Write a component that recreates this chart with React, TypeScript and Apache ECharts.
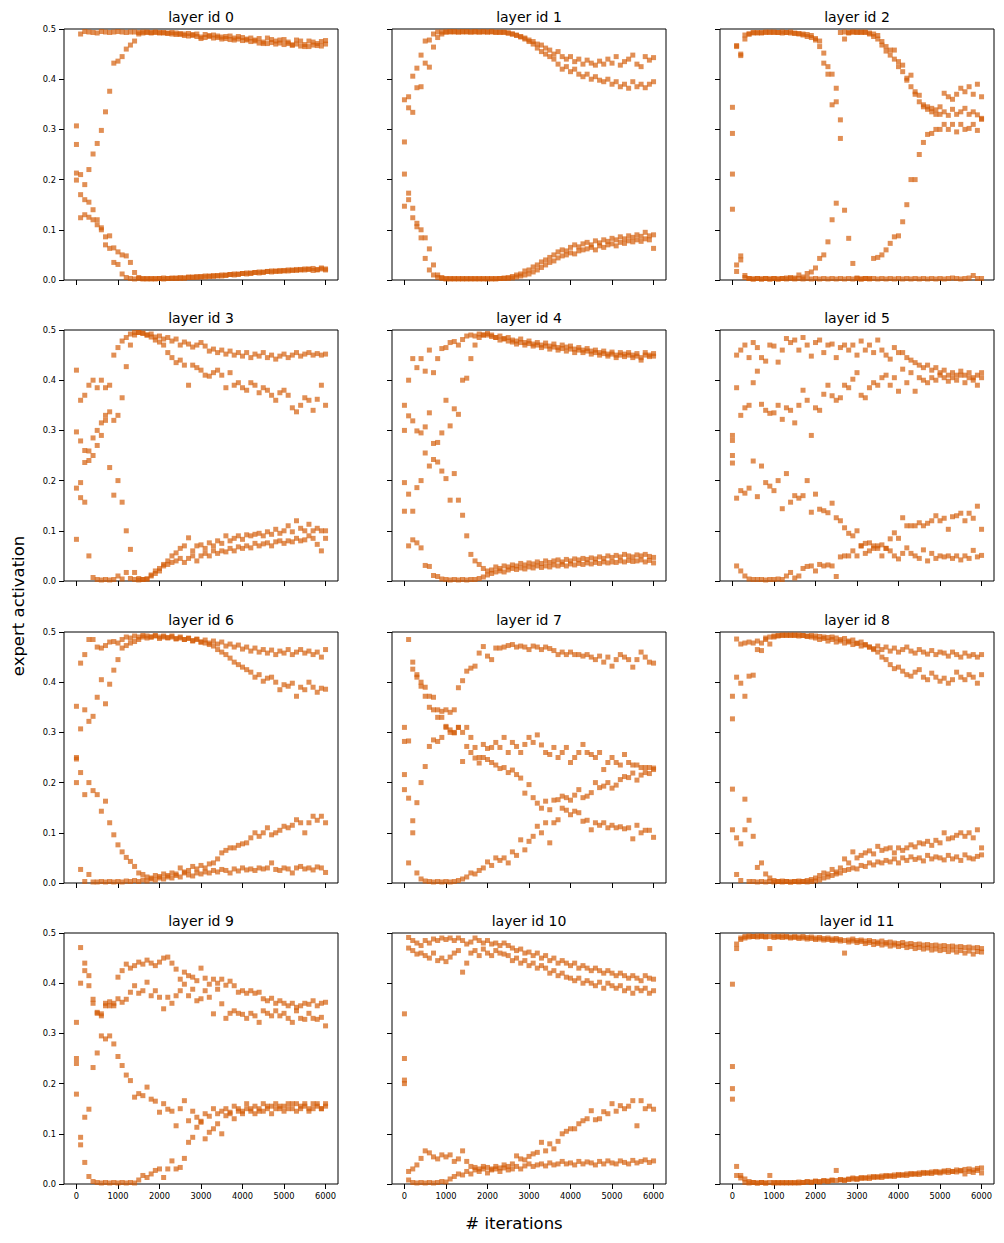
import React, { useEffect, useRef } from "react";
import * as echarts from "echarts";

const ITERATIONS = [
  0, 100, 200, 300, 400, 500, 600, 700, 800, 900,
  1000, 1100, 1200, 1300, 1400, 1500, 1600, 1700, 1800, 1900,
  2000, 2100, 2200, 2300, 2400, 2500, 2600, 2700, 2800, 2900,
  3000, 3100, 3200, 3300, 3400, 3500, 3600, 3700, 3800, 3900,
  4000, 4100, 4200, 4300, 4400, 4500, 4600, 4700, 4800, 4900,
  5000, 5100, 5200, 5300, 5400, 5500, 5600, 5700, 5800, 5900,
  6000,
];
const X_TICKS = [0, 1000, 2000, 3000, 4000, 5000, 6000];
const TITLES = [
  "layer id 0", "layer id 1", "layer id 2", "layer id 3", "layer id 4", "layer id 5",
  "layer id 6", "layer id 7", "layer id 8", "layer id 9", "layer id 10", "layer id 11",
];

// ---- layer 0
const L0A = [0.307,0.490,0.495,0.494,0.493,0.492,0.495,0.494,0.493,0.494,
 0.495,0.494,0.493,0.494,0.494,0.493,0.494,0.494,0.493,0.494,
 0.493,0.493,0.492,0.493,0.492,0.491,0.490,0.491,0.489,0.490,
 0.481,0.489,0.487,0.488,0.486,0.484,0.485,0.486,0.482,0.485,
 0.483,0.480,0.482,0.478,0.481,0.471,0.482,0.479,0.476,0.478,
 0.479,0.474,0.468,0.478,0.476,0.465,0.476,0.474,0.471,0.475,
 0.477];
const L0B = [0.270,0.210,0.190,0.220,0.251,0.272,0.298,0.335,0.376,0.432,
 0.436,0.445,0.460,0.468,0.476,0.490,0.492,0.493,0.492,0.493,
 0.492,0.492,0.491,0.490,0.489,0.489,0.487,0.486,0.487,0.485,
 0.484,0.483,0.485,0.482,0.483,0.480,0.481,0.479,0.478,0.480,
 0.477,0.478,0.475,0.476,0.472,0.474,0.471,0.473,0.470,0.472,
 0.469,0.471,0.468,0.470,0.466,0.469,0.465,0.468,0.467,0.466,
 0.470];
const L0C = [0.213,0.124,0.130,0.125,0.120,0.110,0.104,0.086,0.088,0.064,
 0.056,0.050,0.048,0.035,0.015,0.005,0.003,0.002,0.003,0.002,
 0.003,0.002,0.003,0.003,0.004,0.003,0.004,0.005,0.006,0.005,
 0.007,0.006,0.008,0.007,0.009,0.008,0.010,0.011,0.010,0.012,
 0.013,0.012,0.014,0.015,0.014,0.016,0.017,0.016,0.018,0.017,
 0.019,0.018,0.020,0.019,0.021,0.020,0.022,0.019,0.021,0.022,
 0.020];
const L0D = [0.199,0.170,0.160,0.155,0.140,0.120,0.100,0.070,0.063,0.035,
 0.031,0.012,0.005,0.003,0.002,0.003,0.002,0.003,0.002,0.003,
 0.003,0.004,0.003,0.004,0.003,0.005,0.004,0.006,0.005,0.007,
 0.006,0.008,0.007,0.009,0.008,0.010,0.009,0.011,0.012,0.011,
 0.013,0.014,0.013,0.015,0.016,0.015,0.017,0.018,0.017,0.019,
 0.018,0.020,0.019,0.021,0.020,0.022,0.021,0.023,0.020,0.024,
 0.022];

// ---- layer 1
const L1A = [0.359,0.365,0.406,0.422,0.448,0.476,0.478,0.490,0.494,0.494,
 0.494,0.495,0.494,0.494,0.495,0.494,0.494,0.495,0.494,0.494,
 0.494,0.495,0.494,0.493,0.494,0.492,0.490,0.487,0.485,0.482,
 0.478,0.475,0.470,0.468,0.462,0.458,0.450,0.455,0.445,0.440,
 0.445,0.435,0.440,0.430,0.438,0.432,0.428,0.436,0.430,0.440,
 0.432,0.445,0.428,0.435,0.440,0.448,0.430,0.425,0.445,0.438,
 0.443];
const L1B = [0.275,0.343,0.334,0.383,0.385,0.432,0.424,0.464,0.483,0.490,
 0.494,0.494,0.495,0.494,0.494,0.495,0.494,0.494,0.494,0.495,
 0.494,0.494,0.493,0.494,0.493,0.492,0.490,0.488,0.484,0.480,
 0.475,0.470,0.462,0.455,0.450,0.445,0.440,0.430,0.420,0.425,
 0.415,0.420,0.410,0.405,0.410,0.400,0.405,0.398,0.395,0.400,
 0.390,0.395,0.385,0.390,0.382,0.395,0.385,0.390,0.383,0.390,
 0.395];
const L1C = [0.211,0.160,0.143,0.113,0.100,0.084,0.062,0.030,0.010,0.005,
 0.003,0.002,0.003,0.002,0.003,0.002,0.003,0.002,0.003,0.002,
 0.003,0.002,0.003,0.003,0.004,0.005,0.007,0.010,0.012,0.018,
 0.020,0.026,0.030,0.036,0.040,0.045,0.050,0.056,0.060,0.058,
 0.065,0.070,0.066,0.072,0.075,0.070,0.078,0.074,0.080,0.077,
 0.083,0.080,0.086,0.082,0.088,0.085,0.090,0.087,0.095,0.088,
 0.090];
const L1D = [0.147,0.173,0.124,0.106,0.084,0.043,0.020,0.010,0.005,0.003,
 0.002,0.003,0.002,0.003,0.002,0.003,0.002,0.003,0.002,0.003,
 0.002,0.003,0.002,0.003,0.003,0.003,0.004,0.006,0.008,0.010,
 0.012,0.016,0.020,0.025,0.030,0.035,0.038,0.044,0.048,0.050,
 0.054,0.052,0.058,0.060,0.062,0.065,0.060,0.068,0.065,0.070,
 0.072,0.068,0.075,0.073,0.078,0.076,0.080,0.077,0.082,0.080,
 0.063];

// ---- layer 2
const L2A = [0.344,0.465,0.450,0.480,0.490,0.492,0.493,0.492,0.493,0.494,
 0.493,0.493,0.494,0.493,0.492,0.491,0.490,0.488,0.485,0.483,
 0.481,0.465,0.452,0.425,0.410,0.382,0.282,0.139,0.083,0.033,
 0.004,0.002,0.003,0.002,0.003,0.002,0.003,0.002,0.003,0.002,
 0.003,0.002,0.003,0.002,0.003,0.002,0.003,0.002,0.003,0.002,
 0.003,0.002,0.003,0.004,0.003,0.002,0.003,0.004,0.009,0.003,
 0.003];
const L2B = [0.211,0.030,0.048,0.009,0.003,0.002,0.003,0.002,0.003,0.002,
 0.003,0.002,0.003,0.004,0.005,0.004,0.010,0.006,0.013,0.016,
 0.024,0.043,0.050,0.076,0.120,0.153,0.319,0.480,0.492,0.494,
 0.493,0.494,0.493,0.490,0.485,0.480,0.468,0.456,0.448,0.458,
 0.435,0.428,0.402,0.408,0.375,0.368,0.349,0.345,0.342,0.339,
 0.345,0.372,0.365,0.360,0.370,0.382,0.375,0.385,0.370,0.390,
 0.365];
const L2C = [0.292,0.467,0.447,0.488,0.490,0.493,0.492,0.493,0.494,0.493,
 0.494,0.493,0.492,0.493,0.494,0.492,0.491,0.490,0.489,0.487,
 0.478,0.476,0.432,0.410,0.349,0.355,0.493,0.494,0.493,0.494,
 0.494,0.493,0.494,0.492,0.490,0.487,0.475,0.465,0.458,0.440,
 0.425,0.415,0.398,0.385,0.370,0.355,0.345,0.340,0.335,0.330,
 0.330,0.335,0.328,0.340,0.330,0.335,0.342,0.330,0.335,0.329,
 0.322];
const L2D = [0.141,0.017,0.040,0.005,0.003,0.002,0.003,0.002,0.003,0.002,
 0.003,0.002,0.003,0.002,0.003,0.002,0.003,0.002,0.003,0.002,
 0.003,0.002,0.003,0.002,0.003,0.002,0.003,0.002,0.003,0.002,
 0.003,0.002,0.003,0.003,0.043,0.045,0.050,0.060,0.073,0.086,
 0.088,0.116,0.150,0.200,0.200,0.250,0.274,0.290,0.292,0.300,
 0.300,0.310,0.300,0.310,0.295,0.310,0.300,0.302,0.310,0.298,
 0.320];

// ---- layer 3
const L3A = [0.420,0.360,0.370,0.390,0.400,0.385,0.400,0.385,0.390,0.450,
 0.465,0.478,0.485,0.492,0.495,0.495,0.494,0.490,0.492,0.486,
 0.488,0.482,0.485,0.478,0.482,0.470,0.476,0.472,0.466,0.470,
 0.475,0.468,0.458,0.462,0.455,0.460,0.452,0.458,0.450,0.455,
 0.448,0.455,0.445,0.452,0.448,0.455,0.445,0.450,0.442,0.448,
 0.452,0.445,0.450,0.455,0.448,0.452,0.455,0.450,0.453,0.450,
 0.452];
const L3B = [0.297,0.279,0.260,0.240,0.250,0.300,0.315,0.330,0.337,0.320,
 0.330,0.365,0.427,0.470,0.490,0.495,0.493,0.490,0.486,0.480,
 0.476,0.470,0.455,0.445,0.435,0.440,0.430,0.390,0.430,0.425,
 0.420,0.410,0.408,0.415,0.420,0.410,0.385,0.415,0.390,0.395,
 0.385,0.380,0.395,0.390,0.375,0.385,0.380,0.370,0.360,0.375,
 0.380,0.370,0.345,0.337,0.350,0.365,0.360,0.340,0.362,0.390,
 0.350];
const L3C = [0.185,0.196,0.236,0.259,0.285,0.270,0.290,0.320,0.226,0.171,
 0.200,0.157,0.100,0.063,0.017,0.005,0.003,0.004,0.010,0.020,
 0.025,0.033,0.040,0.050,0.056,0.065,0.070,0.086,0.060,0.070,
 0.072,0.065,0.076,0.070,0.080,0.075,0.090,0.080,0.085,0.090,
 0.083,0.092,0.090,0.093,0.095,0.090,0.098,0.093,0.103,0.095,
 0.100,0.110,0.098,0.120,0.105,0.100,0.113,0.100,0.105,0.100,
 0.100];
const L3D = [0.083,0.166,0.157,0.050,0.007,0.003,0.002,0.003,0.002,0.003,
 0.010,0.004,0.017,0.005,0.003,0.002,0.003,0.004,0.012,0.015,
 0.020,0.030,0.033,0.037,0.040,0.045,0.037,0.045,0.050,0.040,
 0.050,0.055,0.050,0.060,0.055,0.060,0.058,0.065,0.060,0.068,
 0.065,0.070,0.066,0.075,0.070,0.074,0.076,0.070,0.078,0.080,
 0.075,0.080,0.078,0.085,0.080,0.082,0.090,0.085,0.073,0.060,
 0.085];

// ---- layer 4
const L4A = [0.350,0.400,0.443,0.425,0.443,0.418,0.460,0.415,0.443,0.463,
 0.465,0.475,0.477,0.470,0.481,0.488,0.490,0.488,0.492,0.490,
 0.493,0.490,0.485,0.488,0.482,0.485,0.480,0.478,0.482,0.475,
 0.478,0.472,0.475,0.470,0.474,0.468,0.472,0.465,0.470,0.466,
 0.468,0.462,0.465,0.460,0.463,0.458,0.460,0.455,0.458,0.452,
 0.456,0.450,0.455,0.452,0.455,0.450,0.453,0.440,0.455,0.450,
 0.453];
const L4B = [0.300,0.329,0.319,0.299,0.295,0.307,0.335,0.274,0.276,0.295,
 0.360,0.309,0.343,0.332,0.400,0.404,0.443,0.470,0.485,0.490,
 0.490,0.487,0.485,0.480,0.483,0.478,0.476,0.472,0.475,0.470,
 0.473,0.468,0.470,0.465,0.468,0.462,0.466,0.460,0.463,0.458,
 0.462,0.455,0.460,0.455,0.458,0.452,0.455,0.450,0.453,0.448,
 0.452,0.445,0.450,0.447,0.450,0.445,0.448,0.445,0.450,0.447,
 0.448];
const L4C = [0.196,0.173,0.139,0.186,0.200,0.255,0.229,0.242,0.237,0.219,
 0.204,0.161,0.214,0.161,0.131,0.090,0.053,0.040,0.033,0.025,
 0.020,0.022,0.028,0.025,0.030,0.028,0.032,0.030,0.035,0.032,
 0.036,0.034,0.038,0.035,0.040,0.037,0.040,0.042,0.038,0.043,
 0.040,0.044,0.042,0.045,0.043,0.046,0.044,0.048,0.045,0.050,
 0.047,0.051,0.048,0.053,0.050,0.048,0.052,0.050,0.053,0.049,
 0.047];
const L4D = [0.139,0.070,0.082,0.076,0.066,0.031,0.029,0.011,0.009,0.004,
 0.003,0.002,0.003,0.002,0.003,0.002,0.003,0.003,0.005,0.008,
 0.012,0.015,0.018,0.020,0.018,0.022,0.025,0.023,0.026,0.024,
 0.028,0.026,0.030,0.027,0.030,0.028,0.032,0.030,0.033,0.030,
 0.034,0.032,0.035,0.033,0.036,0.034,0.037,0.035,0.038,0.036,
 0.038,0.037,0.040,0.038,0.041,0.039,0.040,0.042,0.038,0.041,
 0.036];

// ---- layer 5
const L5A = [0.290,0.450,0.460,0.470,0.445,0.475,0.465,0.445,0.438,0.470,
 0.468,0.436,0.460,0.483,0.475,0.480,0.460,0.485,0.470,0.448,
 0.475,0.480,0.455,0.470,0.472,0.445,0.465,0.470,0.460,0.470,
 0.450,0.478,0.460,0.470,0.455,0.480,0.460,0.450,0.442,0.465,
 0.455,0.455,0.445,0.440,0.435,0.430,0.425,0.430,0.420,0.425,
 0.415,0.420,0.410,0.415,0.410,0.418,0.410,0.415,0.405,0.410,
 0.415];
const L5B = [0.280,0.385,0.330,0.345,0.350,0.395,0.418,0.352,0.340,0.334,
 0.335,0.350,0.322,0.345,0.340,0.315,0.350,0.380,0.360,0.290,
 0.345,0.340,0.372,0.390,0.369,0.360,0.365,0.390,0.385,0.402,
 0.415,0.370,0.365,0.385,0.395,0.390,0.405,0.410,0.390,0.405,
 0.378,0.422,0.395,0.415,0.378,0.405,0.400,0.395,0.405,0.400,
 0.410,0.405,0.398,0.405,0.400,0.410,0.395,0.405,0.400,0.390,
 0.405];
const L5C = [0.250,0.165,0.180,0.175,0.185,0.239,0.168,0.229,0.196,0.189,
 0.180,0.200,0.144,0.214,0.157,0.170,0.165,0.170,0.200,0.137,
 0.173,0.143,0.140,0.136,0.155,0.126,0.120,0.106,0.095,0.090,
 0.100,0.070,0.075,0.076,0.070,0.070,0.072,0.065,0.084,0.096,
 0.085,0.126,0.110,0.110,0.110,0.116,0.110,0.115,0.120,0.130,
 0.120,0.125,0.103,0.128,0.130,0.135,0.120,0.135,0.125,0.149,
 0.103];
const L5D = [0.235,0.030,0.020,0.010,0.004,0.003,0.003,0.003,0.002,0.003,
 0.003,0.004,0.003,0.010,0.017,0.006,0.010,0.025,0.029,0.030,
 0.020,0.033,0.030,0.032,0.030,0.009,0.048,0.050,0.050,0.060,
 0.050,0.070,0.055,0.060,0.065,0.065,0.050,0.065,0.060,0.050,
 0.044,0.055,0.066,0.055,0.050,0.045,0.062,0.040,0.055,0.045,
 0.050,0.048,0.050,0.045,0.050,0.042,0.050,0.045,0.061,0.048,
 0.051];

// ---- layer 6
const L6A = [0.352,0.438,0.455,0.485,0.485,0.470,0.468,0.473,0.480,0.481,
 0.478,0.485,0.490,0.488,0.492,0.490,0.493,0.488,0.490,0.492,
 0.487,0.490,0.488,0.492,0.486,0.490,0.485,0.488,0.482,0.486,
 0.480,0.484,0.478,0.482,0.476,0.480,0.472,0.476,0.470,0.474,
 0.466,0.470,0.462,0.468,0.460,0.465,0.458,0.464,0.455,0.462,
 0.458,0.465,0.455,0.460,0.465,0.458,0.462,0.455,0.460,0.450,
 0.465];
const L6B = [0.247,0.307,0.345,0.322,0.332,0.370,0.405,0.357,0.396,0.424,
 0.445,0.468,0.473,0.478,0.481,0.485,0.490,0.492,0.490,0.493,
 0.490,0.492,0.489,0.490,0.487,0.488,0.485,0.487,0.483,0.485,
 0.480,0.478,0.475,0.472,0.465,0.460,0.455,0.448,0.440,0.435,
 0.430,0.425,0.420,0.410,0.415,0.402,0.408,0.410,0.400,0.385,
 0.395,0.392,0.398,0.372,0.390,0.385,0.400,0.390,0.380,0.388,
 0.386];
const L6C = [0.200,0.220,0.176,0.200,0.184,0.176,0.143,0.163,0.120,0.096,
 0.076,0.062,0.051,0.043,0.033,0.020,0.017,0.012,0.010,0.015,
 0.013,0.018,0.015,0.020,0.018,0.030,0.022,0.025,0.033,0.028,
 0.035,0.030,0.038,0.040,0.048,0.060,0.065,0.070,0.070,0.075,
 0.078,0.080,0.090,0.100,0.093,0.100,0.110,0.096,0.100,0.105,
 0.113,0.110,0.115,0.126,0.120,0.100,0.120,0.133,0.125,0.133,
 0.120];
const L6D = [0.250,0.027,0.003,0.017,0.002,0.002,0.003,0.002,0.003,0.002,
 0.003,0.002,0.004,0.003,0.005,0.003,0.006,0.004,0.008,0.006,
 0.010,0.008,0.012,0.010,0.015,0.012,0.020,0.016,0.014,0.020,
 0.018,0.022,0.020,0.025,0.022,0.027,0.025,0.020,0.028,0.024,
 0.030,0.026,0.028,0.025,0.030,0.028,0.030,0.040,0.027,0.025,
 0.030,0.028,0.020,0.030,0.033,0.028,0.030,0.026,0.032,0.030,
 0.021];

// ---- layer 7
const L7A = [0.310,0.485,0.440,0.415,0.400,0.390,0.372,0.370,0.345,0.330,
 0.310,0.305,0.299,0.310,0.300,0.310,0.290,0.270,0.250,0.276,
 0.268,0.270,0.280,0.270,0.290,0.260,0.280,0.272,0.260,0.276,
 0.290,0.280,0.295,0.275,0.260,0.256,0.270,0.250,0.260,0.270,
 0.240,0.250,0.260,0.276,0.260,0.256,0.250,0.260,0.226,0.240,
 0.250,0.240,0.235,0.256,0.240,0.235,0.235,0.230,0.230,0.230,
 0.229];
const L7B = [0.282,0.283,0.426,0.410,0.392,0.372,0.350,0.345,0.330,0.342,
 0.345,0.340,0.345,0.389,0.403,0.422,0.428,0.432,0.458,0.471,
 0.452,0.445,0.468,0.468,0.470,0.473,0.475,0.470,0.472,0.470,
 0.465,0.472,0.470,0.465,0.470,0.467,0.463,0.455,0.460,0.455,
 0.460,0.455,0.455,0.452,0.455,0.450,0.445,0.452,0.440,0.450,
 0.432,0.445,0.455,0.450,0.445,0.430,0.445,0.460,0.450,0.440,
 0.438];
const L7C = [0.216,0.169,0.124,0.160,0.200,0.232,0.272,0.285,0.282,0.290,
 0.312,0.300,0.300,0.310,0.242,0.272,0.260,0.249,0.239,0.250,
 0.246,0.240,0.235,0.228,0.230,0.220,0.225,0.216,0.209,0.179,
 0.196,0.170,0.159,0.149,0.163,0.146,0.165,0.166,0.173,0.170,
 0.165,0.175,0.186,0.170,0.173,0.180,0.200,0.190,0.193,0.200,
 0.189,0.195,0.206,0.212,0.210,0.219,0.205,0.215,0.220,0.218,
 0.226];
const L7D = [0.186,0.040,0.100,0.020,0.008,0.004,0.003,0.002,0.003,0.002,
 0.003,0.002,0.003,0.005,0.008,0.012,0.020,0.018,0.025,0.030,
 0.042,0.035,0.050,0.045,0.050,0.040,0.062,0.055,0.086,0.066,
 0.083,0.093,0.113,0.100,0.120,0.080,0.120,0.126,0.149,0.145,
 0.136,0.143,0.140,0.123,0.125,0.106,0.120,0.115,0.120,0.110,
 0.115,0.110,0.112,0.108,0.110,0.088,0.115,0.100,0.105,0.105,
 0.091];

// ---- layer 8
const L8A = [0.327,0.486,0.476,0.478,0.480,0.478,0.482,0.463,0.488,0.476,
 0.490,0.492,0.493,0.494,0.493,0.494,0.492,0.493,0.491,0.490,
 0.488,0.485,0.487,0.482,0.485,0.480,0.482,0.478,0.480,0.475,
 0.477,0.472,0.475,0.470,0.467,0.472,0.465,0.470,0.462,0.468,
 0.460,0.465,0.470,0.462,0.458,0.465,0.460,0.456,0.463,0.455,
 0.460,0.458,0.452,0.460,0.455,0.450,0.458,0.452,0.455,0.450,
 0.455];
const L8B = [0.372,0.410,0.398,0.372,0.412,0.414,0.465,0.478,0.485,0.490,
 0.492,0.493,0.494,0.493,0.494,0.493,0.494,0.493,0.492,0.493,
 0.492,0.491,0.490,0.489,0.490,0.488,0.485,0.487,0.482,0.484,
 0.478,0.480,0.474,0.470,0.465,0.460,0.450,0.445,0.435,0.427,
 0.430,0.422,0.415,0.412,0.420,0.425,0.410,0.405,0.418,0.410,
 0.402,0.408,0.398,0.405,0.420,0.410,0.405,0.415,0.410,0.398,
 0.415];
const L8C = [0.187,0.090,0.078,0.106,0.125,0.093,0.031,0.040,0.018,0.010,
 0.005,0.003,0.004,0.003,0.002,0.003,0.004,0.003,0.005,0.007,
 0.010,0.015,0.020,0.018,0.027,0.022,0.030,0.048,0.040,0.062,
 0.050,0.055,0.060,0.064,0.058,0.073,0.065,0.068,0.070,0.060,
 0.070,0.065,0.070,0.076,0.072,0.080,0.078,0.083,0.075,0.085,
 0.080,0.100,0.088,0.090,0.095,0.100,0.093,0.100,0.090,0.106,
 0.070];
const L8D = [0.106,0.017,0.005,0.167,0.003,0.003,0.002,0.003,0.002,0.003,
 0.002,0.003,0.002,0.003,0.002,0.003,0.002,0.003,0.002,0.003,
 0.004,0.006,0.010,0.012,0.015,0.018,0.020,0.025,0.027,0.030,
 0.028,0.035,0.033,0.040,0.036,0.042,0.040,0.045,0.042,0.048,
 0.040,0.050,0.045,0.052,0.047,0.050,0.044,0.055,0.048,0.052,
 0.050,0.046,0.055,0.048,0.052,0.045,0.056,0.050,0.048,0.053,
 0.056];

// ---- layer 9
const L9A = [0.322,0.471,0.440,0.415,0.368,0.340,0.335,0.360,0.355,0.360,
 0.412,0.425,0.438,0.430,0.435,0.442,0.438,0.446,0.440,0.435,
 0.442,0.450,0.452,0.440,0.428,0.408,0.422,0.415,0.412,0.405,
 0.430,0.410,0.398,0.408,0.400,0.408,0.396,0.404,0.395,0.382,
 0.385,0.380,0.385,0.380,0.382,0.369,0.365,0.370,0.360,0.365,
 0.360,0.355,0.360,0.352,0.355,0.360,0.358,0.365,0.355,0.360,
 0.362];
const L9B = [0.250,0.400,0.425,0.395,0.360,0.342,0.339,0.355,0.363,0.355,
 0.369,0.362,0.368,0.382,0.395,0.380,0.385,0.402,0.375,0.385,
 0.372,0.349,0.372,0.360,0.375,0.385,0.398,0.375,0.388,0.365,
 0.369,0.385,0.372,0.339,0.388,0.359,0.330,0.340,0.345,0.340,
 0.338,0.330,0.340,0.335,0.322,0.345,0.340,0.335,0.345,0.335,
 0.340,0.330,0.322,0.345,0.330,0.328,0.340,0.330,0.328,0.332,
 0.315];
const L9C = [0.240,0.078,0.133,0.149,0.232,0.261,0.295,0.289,0.295,0.279,
 0.254,0.236,0.217,0.206,0.173,0.180,0.176,0.193,0.169,0.165,
 0.143,0.160,0.149,0.145,0.116,0.150,0.166,0.126,0.145,0.133,
 0.125,0.140,0.135,0.150,0.140,0.145,0.150,0.140,0.155,0.150,
 0.145,0.160,0.150,0.155,0.145,0.160,0.150,0.155,0.160,0.150,
 0.155,0.160,0.150,0.160,0.155,0.160,0.150,0.160,0.155,0.150,
 0.160];
const L9D = [0.179,0.093,0.043,0.015,0.005,0.003,0.002,0.003,0.002,0.003,
 0.002,0.003,0.002,0.003,0.002,0.008,0.017,0.013,0.020,0.027,
 0.030,0.013,0.030,0.046,0.030,0.033,0.051,0.083,0.093,0.113,
 0.123,0.090,0.103,0.110,0.120,0.100,0.136,0.143,0.130,0.145,
 0.140,0.150,0.145,0.140,0.150,0.145,0.155,0.140,0.150,0.155,
 0.145,0.150,0.160,0.145,0.150,0.155,0.145,0.150,0.160,0.150,
 0.155];

// ---- layer 10
const L10A = [0.339,0.491,0.485,0.480,0.475,0.485,0.480,0.488,0.485,0.490,
 0.487,0.490,0.485,0.490,0.485,0.478,0.482,0.490,0.485,0.480,
 0.485,0.478,0.480,0.475,0.480,0.475,0.470,0.465,0.468,0.460,
 0.462,0.455,0.460,0.450,0.455,0.445,0.450,0.440,0.445,0.440,
 0.435,0.440,0.430,0.435,0.430,0.425,0.430,0.425,0.420,0.425,
 0.420,0.415,0.420,0.415,0.410,0.415,0.410,0.405,0.415,0.410,
 0.408];
const L10B = [0.250,0.470,0.465,0.458,0.460,0.455,0.450,0.460,0.445,0.450,
 0.443,0.452,0.460,0.465,0.422,0.440,0.460,0.465,0.455,0.468,
 0.460,0.455,0.465,0.460,0.458,0.455,0.445,0.450,0.440,0.445,
 0.435,0.440,0.430,0.435,0.430,0.420,0.425,0.415,0.420,0.412,
 0.410,0.405,0.410,0.400,0.405,0.400,0.395,0.402,0.390,0.400,
 0.395,0.390,0.395,0.385,0.390,0.380,0.390,0.385,0.390,0.380,
 0.385];
const L10C = [0.207,0.025,0.030,0.038,0.051,0.066,0.062,0.054,0.050,0.058,
 0.054,0.058,0.045,0.050,0.066,0.045,0.035,0.033,0.030,0.035,
 0.033,0.030,0.035,0.032,0.038,0.035,0.040,0.056,0.050,0.048,
 0.055,0.060,0.063,0.083,0.066,0.080,0.070,0.085,0.100,0.105,
 0.110,0.110,0.120,0.126,0.130,0.146,0.128,0.130,0.144,0.140,
 0.160,0.145,0.156,0.150,0.155,0.166,0.116,0.166,0.150,0.155,
 0.149];
const L10D = [0.200,0.008,0.003,0.002,0.003,0.002,0.003,0.002,0.003,0.005,
 0.004,0.010,0.015,0.020,0.018,0.025,0.020,0.028,0.025,0.030,
 0.022,0.028,0.030,0.025,0.032,0.028,0.030,0.035,0.030,0.036,
 0.040,0.035,0.038,0.040,0.036,0.042,0.038,0.040,0.045,0.040,
 0.042,0.038,0.045,0.040,0.044,0.042,0.038,0.045,0.040,0.046,
 0.042,0.040,0.046,0.043,0.040,0.047,0.042,0.045,0.048,0.043,
 0.046];

// ---- layer 11
const L11A = [0.398,0.478,0.490,0.493,0.494,0.493,0.494,0.494,0.493,0.469,
 0.494,0.493,0.494,0.493,0.492,0.493,0.492,0.493,0.491,0.492,
 0.490,0.491,0.489,0.490,0.488,0.489,0.487,0.460,0.486,0.488,
 0.485,0.486,0.484,0.485,0.483,0.482,0.484,0.481,0.482,0.480,
 0.479,0.481,0.478,0.479,0.477,0.478,0.476,0.477,0.475,0.476,
 0.474,0.475,0.473,0.474,0.472,0.473,0.471,0.472,0.470,0.471,
 0.469];
const L11B = [0.234,0.469,0.487,0.490,0.492,0.493,0.492,0.493,0.492,0.493,
 0.491,0.492,0.491,0.492,0.490,0.491,0.489,0.490,0.488,0.489,
 0.487,0.488,0.486,0.487,0.485,0.486,0.484,0.485,0.482,0.484,
 0.481,0.483,0.479,0.481,0.477,0.479,0.476,0.478,0.474,0.476,
 0.473,0.475,0.471,0.473,0.469,0.471,0.468,0.470,0.466,0.468,
 0.465,0.467,0.463,0.466,0.462,0.465,0.460,0.464,0.458,0.463,
 0.462];
const L11C = [0.190,0.035,0.017,0.010,0.005,0.003,0.002,0.003,0.002,0.017,
 0.003,0.002,0.003,0.002,0.003,0.002,0.004,0.003,0.005,0.004,
 0.006,0.005,0.007,0.006,0.008,0.007,0.009,0.008,0.010,0.012,
 0.011,0.013,0.012,0.014,0.015,0.014,0.016,0.017,0.016,0.018,
 0.019,0.018,0.020,0.021,0.020,0.022,0.023,0.022,0.024,0.025,
 0.024,0.026,0.027,0.025,0.028,0.027,0.029,0.030,0.028,0.031,
 0.032];
const L11D = [0.169,0.017,0.012,0.003,0.002,0.003,0.002,0.003,0.002,0.003,
 0.002,0.003,0.002,0.003,0.002,0.003,0.002,0.003,0.004,0.003,
 0.005,0.004,0.006,0.005,0.007,0.027,0.008,0.007,0.009,0.010,
 0.009,0.011,0.012,0.011,0.013,0.014,0.013,0.015,0.016,0.015,
 0.017,0.018,0.017,0.019,0.020,0.019,0.021,0.022,0.021,0.023,
 0.022,0.024,0.023,0.025,0.024,0.026,0.020,0.025,0.023,0.027,
 0.022];

const LAYER_EXPERTS = [
  [L0A, L0B, L0C, L0D], [L1A, L1B, L1C, L1D], [L2A, L2B, L2C, L2D],
  [L3A, L3B, L3C, L3D], [L4A, L4B, L4C, L4D], [L5A, L5B, L5C, L5D],
  [L6A, L6B, L6C, L6D], [L7A, L7B, L7C, L7D], [L8A, L8B, L8C, L8D],
  [L9A, L9B, L9C, L9D], [L10A, L10B, L10C, L10D], [L11A, L11B, L11C, L11D],
];

const FONT = "DejaVu Sans";
const MARK_COLOR = "#d35a05";
const COL_LEFT = [64, 392, 720];
const ROW_TOP = [29, 330, 632, 933];
const PANEL_W = 274;
const PANEL_H = 251;

function buildOption() {
  const grid: any[] = [];
  const xAxis: any[] = [];
  const yAxis: any[] = [];
  const series: any[] = [];
  const graphic: any[] = [];
  LAYER_EXPERTS.forEach((experts, k) => {
    const row = Math.floor(k / 3);
    const col = k % 3;
    const left = COL_LEFT[col];
    const top = ROW_TOP[row];
    grid.push({
      left, top, width: PANEL_W, height: PANEL_H,
      show: true, borderColor: "#000", borderWidth: 1,
      backgroundColor: "rgba(0,0,0,0)", containLabel: false,
    });
    xAxis.push({
      type: "value", gridIndex: k, min: -300, max: 6300,
      splitLine: { show: false },
      axisLine: { show: false, onZero: false },
      axisTick: { show: true, length: 5, lineStyle: { color: "#000", width: 1 }, customValues: X_TICKS },
      axisLabel: {
        show: row === 3, customValues: X_TICKS, fontSize: 8.3, color: "#000",
        fontFamily: FONT, margin: 8,
        formatter: (v: number) => String(Math.round(v)),
      },
    });
    yAxis.push({
      type: "value", gridIndex: k, min: 0, max: 0.5, interval: 0.1,
      splitLine: { show: false },
      axisLine: { show: false, onZero: false },
      axisTick: { show: true, length: 5, lineStyle: { color: "#000", width: 1 } },
      axisLabel: {
        show: col === 0, fontSize: 8.3, color: "#000", fontFamily: FONT, margin: 8,
        formatter: (v: number) => v.toFixed(1),
      },
    });
    const data: number[][] = [];
    experts.forEach((vals) => {
      vals.forEach((v, i) => data.push([ITERATIONS[i], v]));
    });
    series.push({
      type: "scatter", xAxisIndex: k, yAxisIndex: k, data,
      symbol: "rect", symbolSize: 5, silent: true,
      itemStyle: { color: MARK_COLOR, opacity: 0.68 },
    });
    graphic.push({
      type: "text", x: left + PANEL_W / 2, y: top - 12,
      style: {
        text: TITLES[k], fontSize: 14, fontFamily: FONT, fill: "#000",
        textAlign: "center", textVerticalAlign: "middle",
      },
    });
  });
  graphic.push({
    type: "text", x: 18, y: 606, rotation: Math.PI / 2,
    style: {
      text: "expert activation", fontSize: 16.5, fontFamily: FONT, fill: "#000",
      textAlign: "center", textVerticalAlign: "middle",
    },
  });
  graphic.push({
    type: "text", x: 514, y: 1223,
    style: {
      text: "# iterations", fontSize: 16.5, fontFamily: FONT, fill: "#000",
      textAlign: "center", textVerticalAlign: "middle",
    },
  });
  return {
    animation: false,
    backgroundColor: "#fff",
    grid, xAxis, yAxis, series, graphic,
  };
}

export default function App() {
  const ref = useRef<HTMLDivElement>(null);
  useEffect(() => {
    if (!ref.current) return;
    const chart = echarts.init(ref.current, undefined, { renderer: "svg" });
    chart.setOption(buildOption());
    return () => chart.dispose();
  }, []);
  return (
    <div
      ref={ref}
      style={{ position: "absolute", left: 0, top: 0, width: 1004, height: 1243 }}
    />
  );
}
